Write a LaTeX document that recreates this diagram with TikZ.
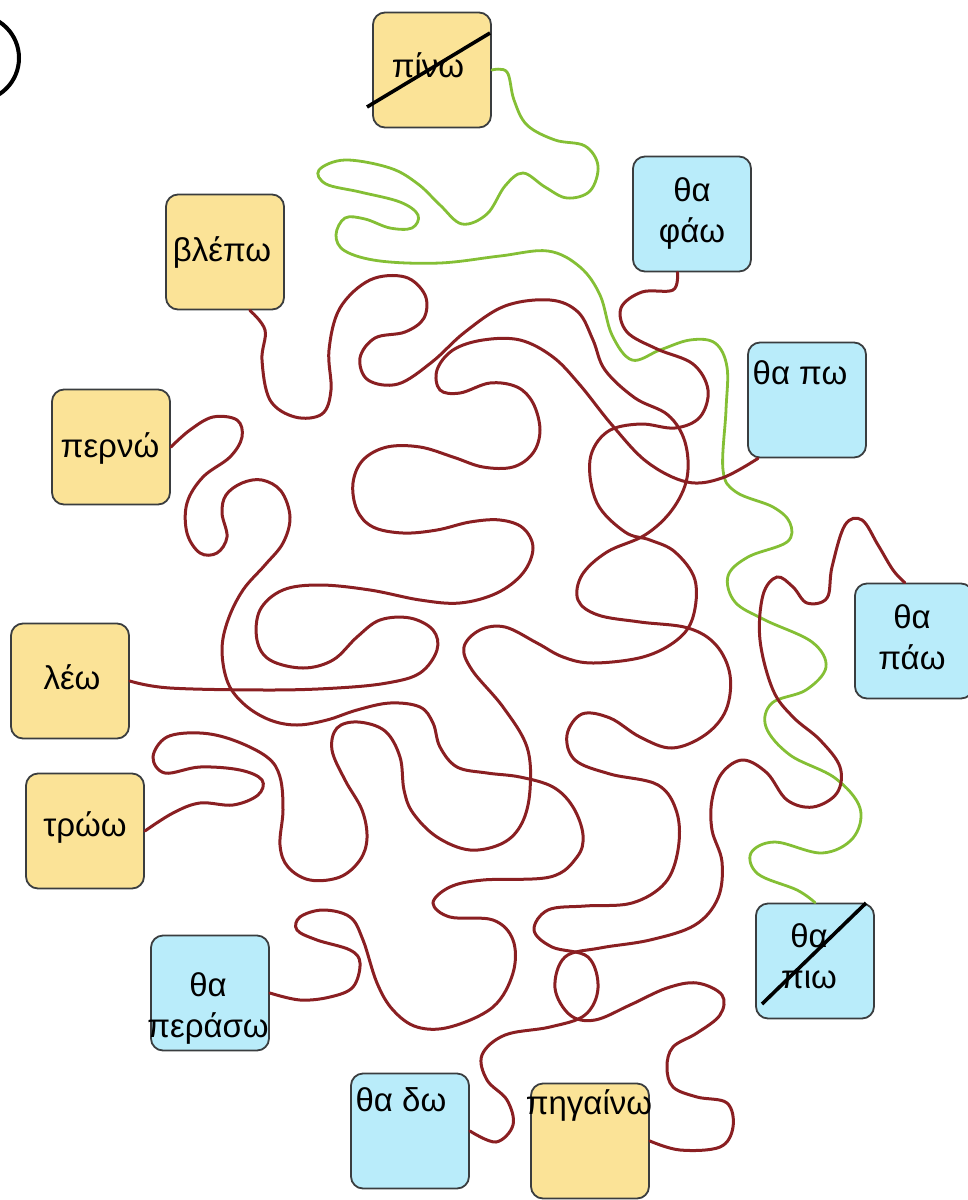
\documentclass[tikz,border=0pt]{standalone}
\usepackage{fontspec}
\setmainfont{Liberation Sans}
\usepackage{xcolor}
\usepackage{tikz}
\usetikzlibrary{positioning}

\definecolor{boxyellow}{HTML}{FBE397}
\definecolor{boxblue}{HTML}{B9ECFA}
\definecolor{boxline}{HTML}{3A3D3F}
\definecolor{wirered}{HTML}{8A1F22}
\definecolor{wiregreen}{HTML}{84BF35}

\begin{document}
\begin{tikzpicture}[x=1pt, y=-1pt,
  box/.style={rectangle, draw=boxline, line width=1.8pt, rounded corners=12pt, minimum width=118pt, minimum height=115pt, inner sep=0pt},
  ybox/.style={box, fill=boxyellow},
  bbox/.style={box, fill=boxblue},
  word/.style={font=\fontsize{33}{41}\selectfont, align=center, inner sep=0pt},
  redwire/.style={draw=wirered, line width=3pt, line cap=round},
  greenwire/.style={draw=wiregreen, line width=2.8pt, line cap=round},
  strike/.style={draw=black, line width=3.6pt}
]
\useasboundingbox (0,0) rectangle (968,1200);

% boxes
\node[ybox] (pino) at (432,70) {};
\node[ybox] (blepo) at (225,252) {};
\node[ybox] (perno) at (111,447) {};
\node[ybox] (leo) at (70,681) {};
\node[ybox] (troo) at (85,831) {};
\node[ybox] (pigaino) at (590,1141) {};
\node[bbox] (thafao) at (692,214) {};
\node[bbox] (thapo) at (807,400) {};
\node[bbox] (thapao) at (914,641) {};
\node[bbox] (thaperaso) at (210,993) {};
\node[bbox] (thapio) at (815,961) {};
\node[bbox] (thado) at (410,1131) {};

% wires
\draw[greenwire] plot[smooth, tension=0.6] coordinates {(pino.east) (507,72) (514,100) (527,125) (555,140) (585,146) (598,166) (590,191) (567,198) (545,187) (523,173) (505,186) (487,214) (462,224) (440,205) (418,184) (390,168) (345,160) (319,170) (326,184) (360,192) (400,202) (418,215) (412,228) (390,228) (365,219) (345,218) (336,235) (345,251) (380,261) (440,263) (500,256) (548,251) (580,267) (600,295) (612,335) (632,360) (660,350) (690,340) (715,343) (727,367) (726,410) (723,470) (736,492) (773,507) (790,523) (787,542) (748,557) (728,576) (735,602) (765,620) (812,642) (826,667) (806,690) (772,703) (766,727) (790,755) (835,778) (860,808) (853,838) (822,853) (775,842) (751,853) (758,874) (797,890) (thapio.north)};

\draw[redwire] plot[smooth, tension=0.6] coordinates {(blepo.-67) (265,330) (262,360) (270,400) (295,417) (322,414) (331,390) (329,350) (340,308) (370,280) (405,277) (425,295) (424,318) (405,332) (375,338) (360,358) (368,380) (398,384) (432,362) (465,332) (505,306) (550,300) (578,312) (593,340) (605,370) (635,398) (668,415) (685,442) (687,478) (672,510) (645,535) (607,552) (582,575) (578,600) (598,615) (640,622) (688,628) (716,645) (730,675) (726,710) (705,735) (672,748) (640,737) (610,718) (582,714) (567,735) (575,760) (610,774) (658,785) (677,813) (678,850) (665,883) (632,903) (585,906) (548,910) (534,930) (552,947) (588,957) (598,988) (585,1015) (550,1027) (505,1035) (482,1055) (487,1080) (507,1100) (513,1125) (496,1142) (thado.east)};

\draw[redwire] plot[smooth, tension=0.6] coordinates {(thafao.-104) (673,290) (642,292) (621,308) (627,332) (657,349) (693,364) (708,390) (700,417) (675,428) (640,424) (607,432) (590,460) (597,503) (625,532) (650,540) (675,552) (695,580) (693,617) (677,640) (643,657) (593,663) (563,657) (537,643) (505,627) (480,630) (464,647) (472,670) (503,707) (527,747) (530,790) (522,823) (503,843) (470,850) (437,837) (413,813) (404,790) (400,757) (385,731) (358,722) (337,728) (332,750) (345,780) (362,810) (367,838) (360,860) (340,877) (310,880) (288,867) (280,845) (283,810) (280,777) (267,757) (233,740) (200,733) (167,737) (153,757) (165,773) (200,767) (240,770) (262,780) (258,795) (233,805) (200,803) (173,813) (troo.east)};

\draw[redwire] plot[smooth, tension=0.6] coordinates {(leo.east) (170,688) (270,690) (337,688) (387,683) (420,673) (437,650) (433,630) (410,618) (380,620) (357,637) (333,660) (303,668) (270,660) (257,640) (260,610) (283,590) (320,585) (370,590) (420,600) (460,603) (497,593) (523,573) (533,548) (523,528) (500,520) (470,522) (437,530) (403,533) (373,527) (357,510) (353,483) (363,460) (387,447) (420,447) (453,457) (483,467) (513,467) (533,453) (540,430) (533,403) (517,387) (490,383) (460,393) (440,390) (437,370) (453,350) (483,340) (520,340) (553,357) (580,385) (612,425) (647,462) (687,482) (722,478) (thapo.-130)};

\draw[redwire] plot[smooth, tension=0.6] coordinates {(perno.east) (190,430) (213,417) (237,420) (242,437) (230,457) (203,477) (187,503) (187,533) (200,553) (217,553) (227,537) (222,513) (226,495) (242,483) (262,480) (281,491) (290,517) (283,543) (265,565) (243,590) (228,620) (222,650) (228,683) (245,705) (270,720) (297,725) (327,720) (357,710) (390,703) (420,707) (433,723) (440,747) (457,767) (487,773) (520,777) (553,787) (573,807) (583,835) (577,857) (550,877) (483,880) (450,887) (433,903) (450,917) (493,920) (513,940) (513,973) (493,1007) (450,1027) (417,1027) (393,1010) (377,983) (363,940) (350,917) (323,910) (300,917) (297,930) (317,940) (350,950) (360,963) (353,987) (330,997) (300,1000) (thaperaso.east)};

\draw[redwire] plot[smooth, tension=0.6] coordinates {(pigaino.east) (680,1150) (720,1147) (733,1127) (727,1103) (697,1097) (673,1087) (667,1067) (673,1047) (697,1033) (720,1015) (722,995) (697,983) (667,988) (630,1005) (595,1020) (570,1015) (555,988) (565,957) (600,948) (650,940) (695,925) (718,898) (722,862) (712,830) (712,800) (722,773) (743,760) (767,773) (787,800) (813,807) (837,793) (840,767) (820,740) (793,717) (773,690) (760,640) (763,595) (777,577) (793,587) (807,603) (827,598) (832,567) (845,525) (862,520) (878,545) (893,570) (thapao.99)};

% words
\node[word] (pino-t) at (428,65) {πίνω};
\node[word] (blepo-t) at (222,252) {βλέπω};
\node[word] (perno-t) at (110,448) {περνώ};
\node[word] (leo-t) at (72,677) {λέω};
\node[word] (troo-t) at (85,827) {τρώω};
\node[word] (pigaino-t) at (589,1105) {πηγαίνω};
\node[word] (thafao-t) at (692,213) {θα\\φάω};
\node[word] (thapo-t) at (800,373) {θα πω};
\node[word] (thapao-t) at (912,637) {θα\\πάω};
\node[word] (thaperaso-t) at (208,1008) {θα\\περάσω};
\node[word] (thapio-t) at (809,956) {θα\\πιω};
\node[word] (thado-t) at (401,1100) {θα δω};

% struck out
\draw[strike] ([shift={(-65,37)}]pino.center) -- ([shift={(58,-37)}]pino.center);
\draw[strike] ([shift={(-53,43)}]thapio.center) -- ([shift={(51,-58)}]thapio.center);

\node[circle, draw, line width=4pt, minimum size=86pt] (mark) at (-24,58) {};
\end{tikzpicture}
\end{document}
